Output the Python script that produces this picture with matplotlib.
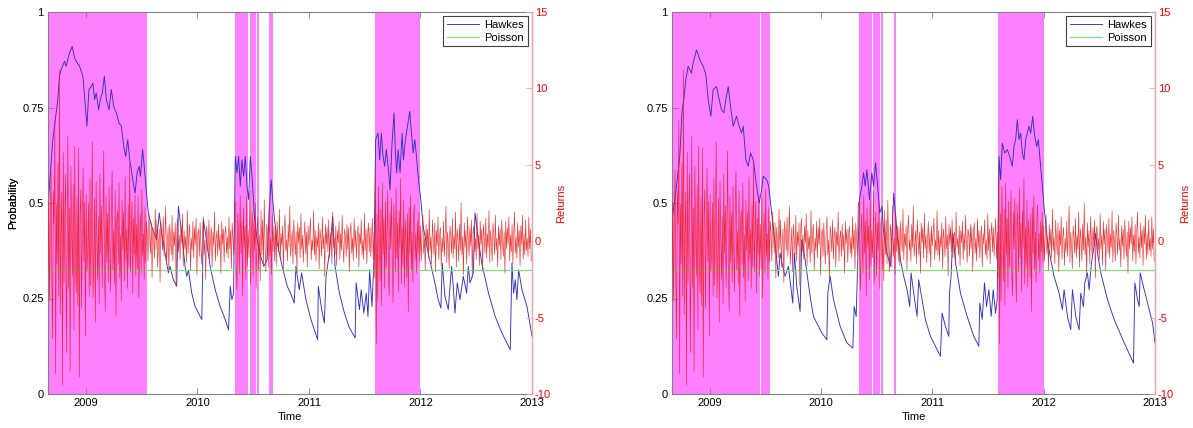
import numpy as np
import matplotlib
matplotlib.use("Agg")
import matplotlib.pyplot as plt

plt.rcParams['font.family'] = ['Liberation Sans', 'DejaVu Sans']

# ---------------- data ----------------
x_range = (2008.66, 2013.0)
year_ticks = [2009, 2010, 2011, 2012, 2013]
prob_ticks = [0, 0.25, 0.5, 0.75, 1]
prob_tick_labels = ['0', '0.25', '0.5', '0.75', '1']
ret_ticks = [-10, -5, 0, 5, 10, 15]
poisson_prob = 0.325

# shaded (high-intensity regime) periods
left_regimes = [(2008.66, 2009.55), (2010.336, 2010.457), (2010.471, 2010.522),
                (2010.538, 2010.556), (2010.642, 2010.678), (2011.59, 2012.0)]
right_regimes = [(2008.66, 2009.448), (2009.457, 2009.543), (2010.336, 2010.459),
                 (2010.468, 2010.532), (2010.541, 2010.556), (2010.651, 2010.669),
                 (2011.59, 2012.0)]

# Hawkes probability (left panel)
hawkes_l_t = [2008.658, 2008.673, 2008.703, 2008.733, 2008.748, 2008.763, 2008.778, 2008.808,
              2008.823, 2008.838, 2008.853, 2008.877, 2008.898, 2008.913, 2008.943, 2008.973,
              2008.988, 2009.009, 2009.027, 2009.048, 2009.063, 2009.078, 2009.093, 2009.114,
              2009.129, 2009.147, 2009.165, 2009.183, 2009.207, 2009.228, 2009.249, 2009.273,
              2009.297, 2009.318, 2009.339, 2009.357, 2009.375, 2009.393, 2009.411, 2009.429,
              2009.441, 2009.459, 2009.477, 2009.489, 2009.508, 2009.520, 2009.544, 2009.559,
              2009.589, 2009.634, 2009.658, 2009.679, 2009.709, 2009.739, 2009.754, 2009.784,
              2009.814, 2009.829, 2009.859, 2009.889, 2009.904, 2009.919, 2009.949, 2009.979,
              2010.009, 2010.039, 2010.054, 2010.084, 2010.114, 2010.159, 2010.204, 2010.249,
              2010.279, 2010.294, 2010.309, 2010.324, 2010.339, 2010.354, 2010.369, 2010.384,
              2010.399, 2010.414, 2010.429, 2010.444, 2010.459, 2010.474, 2010.492, 2010.511,
              2010.535, 2010.559, 2010.595, 2010.625, 2010.643, 2010.661, 2010.685, 2010.715,
              2010.760, 2010.805, 2010.835, 2010.868, 2010.883, 2010.913, 2010.934, 2010.973,
              2011.018, 2011.078, 2011.084, 2011.114, 2011.138, 2011.153, 2011.183, 2011.213,
              2011.234, 2011.273, 2011.318, 2011.363, 2011.414, 2011.423, 2011.453, 2011.468,
              2011.492, 2011.514, 2011.529, 2011.544, 2011.565, 2011.583, 2011.598, 2011.619,
              2011.634, 2011.649, 2011.664, 2011.679, 2011.694, 2011.715, 2011.727, 2011.745,
              2011.763, 2011.775, 2011.787, 2011.799, 2011.817, 2011.835, 2011.847, 2011.865,
              2011.883, 2011.904, 2011.919, 2011.934, 2011.949, 2011.964, 2011.979, 2012.003,
              2012.024, 2012.069, 2012.129, 2012.159, 2012.183, 2012.195, 2012.219, 2012.249,
              2012.279, 2012.294, 2012.309, 2012.330, 2012.354, 2012.384, 2012.414, 2012.429,
              2012.444, 2012.474, 2012.489, 2012.519, 2012.549, 2012.610, 2012.670, 2012.730,
              2012.805, 2012.820, 2012.835, 2012.850, 2012.865, 2012.880, 2012.910, 2012.955,
              2013.0]
hawkes_l_p = [0.491, 0.544, 0.666, 0.736, 0.771, 0.832, 0.849, 0.871,
              0.858, 0.875, 0.893, 0.910, 0.880, 0.871, 0.858, 0.832,
              0.779, 0.701, 0.797, 0.805, 0.814, 0.771, 0.788, 0.744,
              0.771, 0.788, 0.832, 0.771, 0.744, 0.797, 0.753, 0.736,
              0.709, 0.701, 0.648, 0.622, 0.666, 0.613, 0.579, 0.544,
              0.526, 0.579, 0.596, 0.570, 0.640, 0.605, 0.526, 0.474,
              0.439, 0.404, 0.474, 0.421, 0.369, 0.317, 0.334, 0.299,
              0.282, 0.491, 0.421, 0.334, 0.308, 0.325, 0.264, 0.229,
              0.212, 0.195, 0.456, 0.395, 0.334, 0.273, 0.229, 0.195,
              0.168, 0.282, 0.247, 0.264, 0.622, 0.579, 0.622, 0.544,
              0.613, 0.570, 0.622, 0.544, 0.509, 0.622, 0.561, 0.465,
              0.404, 0.369, 0.334, 0.352, 0.474, 0.561, 0.474, 0.395,
              0.334, 0.282, 0.264, 0.238, 0.334, 0.273, 0.317, 0.247,
              0.195, 0.142, 0.282, 0.221, 0.186, 0.308, 0.369, 0.465,
              0.334, 0.264, 0.212, 0.173, 0.147, 0.291, 0.221, 0.273,
              0.212, 0.264, 0.203, 0.325, 0.229, 0.352, 0.666, 0.683,
              0.613, 0.683, 0.622, 0.596, 0.640, 0.579, 0.535, 0.657,
              0.736, 0.631, 0.579, 0.640, 0.579, 0.683, 0.613, 0.666,
              0.701, 0.740, 0.683, 0.631, 0.666, 0.622, 0.570, 0.509,
              0.439, 0.369, 0.291, 0.247, 0.225, 0.343, 0.256, 0.221,
              0.334, 0.282, 0.212, 0.291, 0.247, 0.308, 0.264, 0.334,
              0.291, 0.317, 0.474, 0.404, 0.343, 0.264, 0.203, 0.160,
              0.116, 0.343, 0.264, 0.299, 0.247, 0.325, 0.273, 0.229,
              0.151]

# Hawkes probability (right panel)
hawkes_r_t = [2008.661, 2008.700, 2008.730, 2008.751, 2008.766, 2008.784, 2008.805, 2008.835,
              2008.850, 2008.880, 2008.910, 2008.940, 2008.964, 2008.985, 2009.009, 2009.030,
              2009.060, 2009.084, 2009.105, 2009.126, 2009.144, 2009.165, 2009.186, 2009.210,
              2009.240, 2009.264, 2009.285, 2009.300, 2009.324, 2009.345, 2009.366, 2009.390,
              2009.405, 2009.420, 2009.444, 2009.465, 2009.480, 2009.511, 2009.529, 2009.556,
              2009.586, 2009.616, 2009.631, 2009.655, 2009.676, 2009.706, 2009.745, 2009.760,
              2009.781, 2009.811, 2009.826, 2009.856, 2009.901, 2009.931, 2010.006, 2010.051,
              2010.060, 2010.081, 2010.111, 2010.171, 2010.231, 2010.285, 2010.297, 2010.315,
              2010.330, 2010.345, 2010.366, 2010.381, 2010.396, 2010.411, 2010.435, 2010.456,
              2010.471, 2010.489, 2010.508, 2010.526, 2010.547, 2010.562, 2010.592, 2010.622,
              2010.640, 2010.652, 2010.682, 2010.712, 2010.742, 2010.772, 2010.796, 2010.808,
              2010.832, 2010.862, 2010.877, 2010.907, 2010.937, 2010.982, 2011.027, 2011.072,
              2011.087, 2011.117, 2011.147, 2011.153, 2011.168, 2011.183, 2011.210, 2011.252,
              2011.312, 2011.372, 2011.417, 2011.426, 2011.447, 2011.468, 2011.486, 2011.507,
              2011.528, 2011.546, 2011.567, 2011.582, 2011.598, 2011.613, 2011.628, 2011.649,
              2011.673, 2011.694, 2011.718, 2011.733, 2011.748, 2011.763, 2011.778, 2011.793,
              2011.808, 2011.823, 2011.838, 2011.853, 2011.868, 2011.883, 2011.901, 2011.919,
              2011.937, 2011.952, 2011.967, 2011.988, 2012.003, 2012.033, 2012.063, 2012.093,
              2012.138, 2012.168, 2012.183, 2012.213, 2012.243, 2012.258, 2012.288, 2012.318,
              2012.333, 2012.357, 2012.369, 2012.393, 2012.408, 2012.429, 2012.453, 2012.468,
              2012.483, 2012.513, 2012.573, 2012.633, 2012.723, 2012.807, 2012.819, 2012.843,
              2012.858, 2012.867, 2012.903, 2012.933, 2012.978, 2013.0]
hawkes_r_p = [0.456, 0.544, 0.622, 0.744, 0.771, 0.823, 0.858, 0.840,
              0.866, 0.901, 0.875, 0.858, 0.836, 0.771, 0.727, 0.797,
              0.805, 0.771, 0.744, 0.736, 0.771, 0.805, 0.753, 0.701,
              0.727, 0.701, 0.683, 0.701, 0.613, 0.596, 0.631, 0.613,
              0.579, 0.544, 0.500, 0.535, 0.570, 0.561, 0.544, 0.474,
              0.395, 0.308, 0.369, 0.334, 0.308, 0.334, 0.238, 0.369,
              0.282, 0.216, 0.404, 0.352, 0.256, 0.203, 0.160, 0.142,
              0.264, 0.308, 0.247, 0.177, 0.134, 0.120, 0.229, 0.203,
              0.352, 0.509, 0.544, 0.579, 0.544, 0.587, 0.509, 0.579,
              0.544, 0.605, 0.544, 0.474, 0.491, 0.421, 0.369, 0.334,
              0.439, 0.526, 0.421, 0.352, 0.308, 0.273, 0.229, 0.317,
              0.264, 0.203, 0.299, 0.247, 0.195, 0.151, 0.125, 0.099,
              0.212, 0.177, 0.151, 0.264, 0.308, 0.421, 0.340, 0.264,
              0.203, 0.151, 0.125, 0.238, 0.195, 0.291, 0.229, 0.273,
              0.203, 0.273, 0.212, 0.247, 0.622, 0.561, 0.657, 0.631,
              0.640, 0.622, 0.596, 0.648, 0.666, 0.718, 0.666, 0.683,
              0.631, 0.613, 0.666, 0.683, 0.701, 0.683, 0.727, 0.675,
              0.648, 0.666, 0.613, 0.544, 0.491, 0.404, 0.352, 0.308,
              0.264, 0.221, 0.273, 0.203, 0.168, 0.273, 0.203, 0.168,
              0.264, 0.229, 0.291, 0.317, 0.273, 0.343, 0.387, 0.421,
              0.369, 0.317, 0.247, 0.195, 0.134, 0.081, 0.291, 0.247,
              0.229, 0.317, 0.273, 0.238, 0.186, 0.134]

# Returns, by period (same series on both panels)
ret_periods = [2008.66, 2009.55, 2010.34, 2010.70, 2011.59, 2012.0, 2013.0]
ret_crisis = [-1.8, 2.6, -3.9, 0.8, 4.7, -2.1, -6.4, 3.3, 1.1, 7.9, -8.7, 2.4, -1.5, 5.1, -3.6, 11.2, -4.8, 0.6, 3.2, -9.4,
              5.8, -2.7, 1.9, 4.4, -7.3, -1.2, 6.9, -3.1, 2.2, -8.5, 4.9, 0.4, -2.3, 3.7, -5.8, 6.2, -1.6, -3.4, 2.9, -4.2,
              6.1, -8.9, 1.7, 3.4, -4.4, 0.9, 4.8, -1.3, 2.6, -6.2, 3.1, -2.0, -0.7, 2.5, -3.6, 4.1, -2.9, 1.0, 6.5, -3.7,
              -1.1, 2.8, -5.3, 3.9, 0.2, -2.5, 1.6, -4.1, 4.4, -0.8, 2.3, -3.0, 0.9, 5.9, -2.2, -4.6, 3.0, -1.4, 1.8, -2.7,
              3.6, -0.5, -3.3, 2.1, 4.6, -1.9, 0.7, -2.8, 3.3, -4.9, 1.3, 2.0, -1.5, 3.8, -2.4, 0.4, -3.9, 2.7, -0.6, 1.9,
              -2.6, 4.2, -1.2, 0.8, -3.1, 2.4, -1.7, 5.1, -2.0, 0.3, 2.6, -3.4, 1.5, -0.9, 3.0, -2.3, 1.1, -1.8, 2.9, -3.7,
              0.6, 1.8, -2.1, 3.4, -1.0, 0.5, -2.5, 2.2, -1.4, 1.3]
ret_calm1 = [0.6, -1.3, 1.9, 0.4, -0.8, 1.2, -2.4, 0.9, 0.1, -1.1, 2.1, -0.5, 1.4, -1.7, -0.2, 0.8, -2.7, 1.3, 0.5, -0.6,
             1.6, -1.0, 0.3, 2.3, -1.5, -0.4, 0.9, -2.0, 1.1, 0.2, -0.9, 1.7, -1.3, 0.6, -0.3, 1.2, -2.9, 0.8, 1.5, -0.7,
             0.4, -1.2, 1.0, -0.1, 1.8, -1.6, 0.7, -0.5, 0.3, -1.4, 2.0, -0.8, 0.5, 1.1, -1.9, 0.2, -0.6, 1.3, -1.1, 0.9,
             -0.2, 1.5, -2.2, 0.4, 0.8, -1.0, 1.2, -0.4, -1.5, 0.7, 1.6, -0.9, 0.1, -2.5, 1.0, 0.5, -0.7, 1.4, -1.2, 0.3,
             0.9, -1.7, 0.6, -0.3, 1.9, -1.3, 0.2, 0.7, -1.0, 1.1, -0.6, 0.4, -2.1, 1.3, -0.2, 0.8, -1.4, 0.5, 1.0, -0.8,
             0.3, -1.1, 1.6, -0.5, 0.7, -1.8, 1.2, 0.1, -0.9, 2.4]
ret_2010 = [2.6, -1.4, -3.2, 1.8, 0.5, -2.1, 3.0, -0.8, 1.3, -3.6, 2.2, -0.4, 1.0, -2.5, 2.9, -1.6, 0.7, -1.1, 3.3, -2.8,
            0.3, 1.9, -2.3, 1.2, -0.6, 2.5, -3.1, 0.9, 1.6, -1.9, 0.4, -2.6, 2.0, -0.9, 1.4, -1.5, 2.7, -0.3, -2.0, 1.1,
            0.6, -1.7, 2.3, -1.0, 0.2, -2.2, 1.8, -0.7, 1.0, -1.3]
ret_calm2 = [0.9, -1.6, 1.3, 0.2, -0.7, 2.1, -1.2, 0.5, -0.3, 1.0, -1.9, 0.8, 1.7, -0.6, 0.1, -1.3, 1.1, -0.4, 2.3, -1.0,
             -0.2, 0.7, -1.5, 1.4, 0.3, -0.9, 0.6, -2.1, 1.2, -0.1, 0.9, -1.1, 1.8, -0.5, 0.4, -1.4, 0.2, 1.3, -0.8, 0.6,
             -1.7, 1.0, -0.3, 0.5, 1.5, -1.2, 0.1, -0.6, 2.0, -0.9, 0.7, -1.3, 0.3, -0.4, 1.2, -1.8, 0.8, 0.2, -1.0, 1.6,
             -0.5, 0.4, -2.3, 1.1, -0.2, 0.9, -0.7, 1.4, -1.1, 0.3, 0.6, -1.5, 1.9, -0.4, 0.2, -0.9, 1.0, -1.6, 0.7, -0.1,
             1.3, -1.2, 0.5, -0.6, 1.7, -0.3, -1.4, 0.8, 0.4, -1.0, 1.1, -0.5, 0.9, -2.0, 0.6, 1.2, -0.8, 0.2, -1.3, 1.5,
             -0.4, 0.7, -1.1, 0.3, 1.0, -1.7, 0.5, -0.2, 1.4, -0.9, 0.1, -1.2, 1.8, -0.6, 0.8, -1.5, 0.4, 1.2, -0.7, 0.9,
             -1.0, 0.3, 1.5, -1.2, 0.6]
ret_2011 = [-2.4, 4.9, -6.7, 1.8, -3.9, 3.6, 0.4, -2.6, 2.1, -4.2, 3.8, -0.9, 1.5, -3.1, 2.6, -1.7, 0.6, 3.3, -2.2, -3.6,
            1.9, -0.5, 2.8, -1.3, -4.0, 2.4, 0.8, -2.0, 3.5, -1.1, 1.2, -3.3, 2.0, -0.4, 4.1, -2.8, 0.9, -1.6, 2.7, -3.0,
            1.4, 0.3, -2.4, 1.8, -4.6, 2.2, -0.8, 3.0, -1.9, 0.6, -2.7, 1.6, 2.4, -1.2, 0.5, -2.1, 1.3, -0.7, 1.9, -1.4]
ret_2012 = [1.0, -1.3, 0.6, 1.7, -0.8, 0.2, -1.9, 1.1, -0.4, 0.8, -1.1, 2.1, -0.6, 0.3, -1.5, 1.4, 0.1, -0.9, 1.2, -2.0,
            0.7, -0.3, 1.6, -1.2, 0.4, 0.9, -1.6, 0.2, -0.7, 1.3, -1.0, 0.5, 2.3, -1.4, 0.6, -0.2, -1.8, 1.0, 0.3, -0.8,
            1.5, -1.1, 0.4, -0.5, 1.9, -1.7, 0.8, 0.2, -1.3, 1.1, -0.6, 2.5, -0.9, 0.3, -2.2, 1.2, -0.4, 0.7, -1.5, 1.6,
            0.1, -1.0, 0.9, -0.3, 1.4, -2.4, 0.6, 1.0, -0.7, 0.2, -1.2, 1.8, -0.5, 0.4, -1.6, 1.3, -0.2, 0.8, -1.9, 1.1,
            0.3, -0.8, 1.5, -1.1, 0.5, -0.4, 2.0, -1.4, 0.7, -0.1, -1.3, 1.2, 0.4, -0.9, 1.7, -0.6, 0.2, -1.7, 1.0, -0.3,
            0.8, -1.2, 1.4, 0.1, -1.0, 0.6, -2.1, 1.3, -0.5, 0.9, -0.2, 1.6, -1.3, 0.4, -0.7, 1.1, -1.5, 0.5, 1.9, -0.8,
            0.3, -1.1, 1.2, -0.4, 0.7, -1.6, 1.0, -0.2, 1.7, -1.2, 0.5, -0.9, 1.4, -0.6, 0.2, -1.0, 1.6, -0.5, 0.8, -1.3]
ret_blocks = [ret_crisis, ret_calm1, ret_2010, ret_calm2, ret_2011, ret_2012]

# ---------------- styling ----------------
W, H = 1193, 428
PINK = '#ff80ff'
BLUE = '#3030c4'
GREEN = '#80e080'
RED = '#e81e1e'
AX_GRAY = '#808080'
RIGHT_SPINE = '#e6a8a8'


def build_returns():
    ts, vs = [], []
    for (a, b), blk in zip(zip(ret_periods[:-1], ret_periods[1:]), ret_blocks):
        ts.append(np.linspace(a, b, len(blk), endpoint=False))
        vs.append(np.array(blk, dtype=float))
    return np.concatenate(ts), np.concatenate(vs)


ret_t, ret_v = build_returns()

fig = plt.figure(figsize=(W / 100, H / 100), dpi=100)

panels = [
    (48, 532, 561.5, left_regimes, hawkes_l_t, hawkes_l_p),
    (672, 1155, 1185, right_regimes, hawkes_r_t, hawkes_r_p),
]
top_px, bot_px = 12, 394

for (x0, x1, xret, regimes, ht, hp) in panels:
    ax = fig.add_axes([x0 / W, 1 - bot_px / H, (x1 - x0) / W, (bot_px - top_px) / H])
    for a, b in regimes:
        ax.axvspan(a, b, color=PINK, lw=0, zorder=0)
    lh, = ax.plot(ht, hp, color=BLUE, lw=0.65, zorder=2, label='Hawkes')
    lp, = ax.plot(list(x_range), [poisson_prob, poisson_prob], color=GREEN, lw=0.9,
                  zorder=2, label='Poisson')
    ax.set_xlim(*x_range)
    ax.set_ylim(0, 1)
    ax.set_xticks(year_ticks)
    ax.set_xticklabels([str(y) for y in year_ticks])
    ax.set_yticks(prob_ticks)
    ax.set_yticklabels(prob_tick_labels)
    ax.tick_params(direction='in', length=4, width=0.6, color=AX_GRAY, labelsize=8,
                   top=True, right=True, pad=3)
    for s in ax.spines.values():
        s.set_color(AX_GRAY)
        s.set_linewidth(0.8)
    ax.set_ylabel('Probability', fontsize=8, va='center')
    ax.yaxis.set_label_coords((13.5 - x0) / (x1 - x0), 0.5)
    ax.set_xlabel('Time', fontsize=8, va='center')
    ax.xaxis.set_label_coords(0.5, (bot_px - 417.5) / (bot_px - top_px))

    ax2 = ax.twinx()
    ax2.plot(ret_t, ret_v, color=RED, lw=0.45, alpha=0.9, zorder=3)
    ax2.set_ylim(-10, 15)
    ax2.set_yticks(ret_ticks)
    ax2.set_yticklabels([str(v) for v in ret_ticks])
    ax2.tick_params(axis='y', direction='in', length=4, width=0.6, color=RIGHT_SPINE,
                    labelcolor='red', labelsize=8, pad=2)
    ax2.spines['right'].set_color(RIGHT_SPINE)
    ax2.spines['right'].set_linewidth(1.0)
    for k in ('left', 'top', 'bottom'):
        ax2.spines[k].set_visible(False)
    ax2.set_ylabel('Returns', fontsize=8, color='red', va='center', rotation=90)
    ax2.yaxis.set_label_coords((xret - x0) / (x1 - x0), 0.5)

    leg = ax2.legend([lh, lp], ['Hawkes', 'Poisson'], loc='upper right', fontsize=8,
                     fancybox=False, framealpha=1, edgecolor='#404040',
                     handlelength=2.9, borderaxespad=0.35, borderpad=0.35,
                     labelspacing=0.25, handletextpad=0.5)
    leg.get_frame().set_linewidth(0.8)

fig.savefig('out.png', dpi=100)
